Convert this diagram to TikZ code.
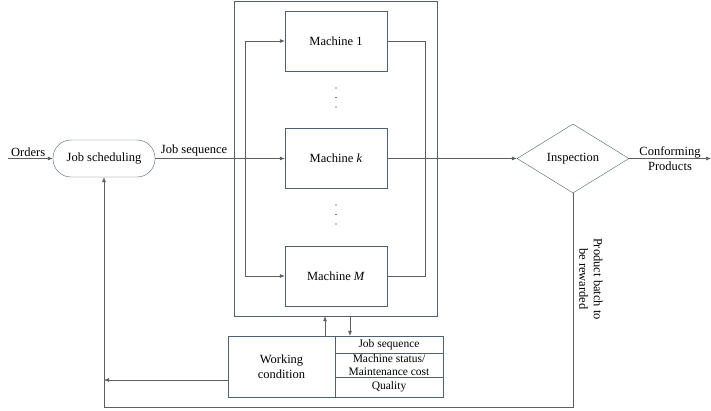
\documentclass[tikz,border=0pt]{standalone}
\usepackage{fontspec}
\setmainfont{Liberation Serif}
\usetikzlibrary{calc,positioning,arrows.meta,shapes.geometric}
\definecolor{boxline}{HTML}{4F6170}
\definecolor{flowline}{HTML}{5E5E5E}
\tikzset{machine/.style={draw=boxline,rectangle,minimum width=102pt,minimum
height=60pt,inner sep=0pt,text=black},cell/.style={draw=boxline,rectangle,minimum
width=108pt,inner sep=0pt,align=center,font=\fontsize{11.5}{13}\selectfont}}
\tikzstyle{process}   = [rectangle, rounded corners=18pt, minimum width=102pt, minimum height=37pt, inner sep=0pt, draw=boxline]
\tikzstyle{decision}  = [diamond, minimum width=112pt, minimum height=69pt, inner sep=0pt, draw=boxline]
\tikzstyle{arrow}     = [flowline,semithick,-{Latex[length=5pt,width=4pt]}]
\tikzstyle{line}      = [flowline,semithick]
\tikzstyle{lbl}       = [text=black,inner sep=2pt]

\begin{document}
\begin{tikzpicture}[x=1pt,y=1pt,font=\fontsize{12.5}{14.5}\selectfont]
		\useasboundingbox (0,0) rectangle (711,410);

		% plant with its machines
		\node[draw=boxline,minimum width=203pt,minimum height=315pt,inner sep=0pt] (plant) at (335.5,251.5) {};
		\node[machine] (m1) at (336,369) {Machine 1};
		\node[machine] (mk) at (336,251.5) {Machine \textit{k}};
		\node[machine] (mM) at (336,134) {Machine \textit{M}};
		\foreach \y in {303,312.5,322,186,195.5,205}
			\fill[black] (336,\y) circle (0.65pt);

		\node[process] (sched) at (104,251.5) {Job scheduling};
		\node[decision] (insp) at (573,251.5) {Inspection};

		% working condition table
		\node[draw=boxline,minimum width=107pt,minimum height=61pt,inner sep=0pt,align=center] (wc) at (281.5,43.5) {Working\\condition};
		\node[cell,minimum height=17pt] (js) at (389,65.5) {Job sequence};
		\node[cell,minimum height=24pt] (ms) at (389,45) {Machine status/\\Maintenance cost};
		\node[cell,minimum height=20pt] (q) at (389,23) {Quality};

		\coordinate (orders) at (8,251.5);
		\coordinate (out) at (711,251.5);
		\coordinate (busl) at (245,251.5);
		\coordinate (busr) at (425,251.5);
		\coordinate (bottom) at (0,3);
		\coordinate (fb) at (0,30);
		\coordinate (up) at (325,0);
		\coordinate (down) at (350,0);

		\draw[arrow] (orders) -- node[lbl,above,pos=0.45]{Orders} (sched.west);
		\draw[arrow] (sched.east) -- node[lbl,above,pos=0.3]{Job sequence} (mk.west);
		\draw[arrow] (m1.west -| busl) -- (m1.west);
		\draw[arrow] (m1.west -| busl) |- (mM.west);
		\draw[line] (m1.east) -| (busr |- mM.east) -- (mM.east);
		\draw[arrow] (mk.east) -- (insp.west);
		\draw[arrow] (insp.east) -- (out);
		\node[align=center,inner sep=0pt] (conf) at (670,251.5) {Conforming\\[1pt]Products};

		% feedback
		\draw[arrow] (insp.south) -- (insp.south |- bottom) -| (sched.south);
		\node[rotate=-90,align=center,inner sep=0pt] (reward) at (591,131) {Product batch to\\be rewarded};
		\draw[arrow] (wc.west |- fb) -- (sched.south |- fb);
		\draw[arrow] (wc.north -| up) -- (plant.south -| up);
		\draw[arrow] (plant.south -| down) -- (js.north -| down);
	\end{tikzpicture}
\end{document}
